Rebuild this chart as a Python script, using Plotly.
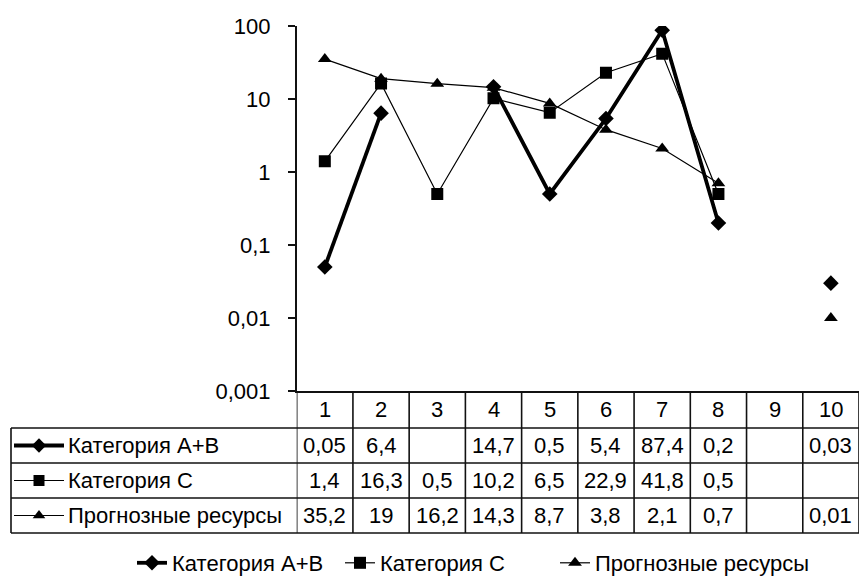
import plotly.graph_objects as go

# ---- data ----
categories = ["1", "2", "3", "4", "5", "6", "7", "8", "9", "10"]
series_names = ["Категория А+В", "Категория С", "Прогнозные ресурсы"]
ab_values = [0.05, 6.4, None, 14.7, 0.5, 5.4, 87.4, 0.2, None, 0.03]
c_values = [1.4, 16.3, 0.5, 10.2, 6.5, 22.9, 41.8, 0.5, None, None]
p_values = [35.2, 19, 16.2, 14.3, 8.7, 3.8, 2.1, 0.7, None, 0.01]
y_tickvals = [0.001, 0.01, 0.1, 1, 10, 100]
y_ticktext = ["0,001", "0,01", "0,1", "1", "10", "100"]

W, H = 859, 577
FONT = "Liberation Sans, Arial, sans-serif"
FS = 22
INK = "#111111"

# layout geometry (pixels)
AX_LEFT, AX_RIGHT = 296.7, 859.0
AX_TOP, AX_BOTTOM = 26.0, 391.0
ROW_LINES = [428, 463, 498, 533]
TABLE_LEFT = 11
LEGEND_X = [132, 340, 555]
LEGEND_Y = 563

xpos = list(range(1, len(categories) + 1))

styles = [
    dict(width=3.8, symbol="diamond", size=12),
    dict(width=1.2, symbol="square", size=12),
    dict(width=1.2, symbol="triangle-up", size=12),
]
all_values = [ab_values, c_values, p_values]
legend_ids = ["legend", "legend2", "legend3"]

fig = go.Figure()
for name, vals, st, lg in zip(series_names, all_values, styles, legend_ids):
    fig.add_trace(go.Scatter(
        x=xpos, y=vals, name=name, mode="lines+markers",
        connectgaps=False, legend=lg,
        line=dict(color="black", width=st["width"]),
        marker=dict(symbol=st["symbol"], size=st["size"], color="black"),
        xaxis="x", yaxis="y",
    ))

# legend keys inside the table rows (overlay pixel axes)
row_centers = [(ROW_LINES[i] + ROW_LINES[i + 1]) / 2 for i in range(3)]
for name, st, yc in zip(series_names, styles, row_centers):
    fig.add_trace(go.Scatter(
        x=[14, 64], y=[yc, yc], mode="lines", showlegend=False,
        line=dict(color="black", width=st["width"]), hoverinfo="skip",
        xaxis="x2", yaxis="y2",
    ))
    fig.add_trace(go.Scatter(
        x=[39], y=[yc], mode="markers", showlegend=False,
        marker=dict(symbol=st["symbol"], size=st["size"] - 1, color="black"),
        hoverinfo="skip", xaxis="x2", yaxis="y2",
    ))

shapes = []
annotations = []
LW = 1.6
for yl in ROW_LINES:
    shapes.append(dict(type="line", xref="x2", yref="y2", x0=TABLE_LEFT, x1=W,
                       y0=yl, y1=yl, line=dict(color=INK, width=LW)))
shapes.append(dict(type="line", xref="x2", yref="y2", x0=TABLE_LEFT, x1=TABLE_LEFT,
                   y0=ROW_LINES[0], y1=ROW_LINES[-1], line=dict(color=INK, width=LW)))
for i in range(len(categories) + 1):
    shapes.append(dict(type="line", xref="x", yref="y2", x0=i + 0.5, x1=i + 0.5,
                       y0=AX_BOTTOM, y1=ROW_LINES[-1], line=dict(color=INK, width=LW)))

def fmt(v):
    return ("%g" % v).replace(".", ",")

header_y = (AX_BOTTOM + ROW_LINES[0]) / 2
for xp, cat in zip(xpos, categories):
    annotations.append(dict(x=xp, y=header_y, xref="x", yref="y2", text=cat,
                            showarrow=False, font=dict(family=FONT, size=FS, color="black")))
for vals, yc in zip(all_values, row_centers):
    for xp, v in zip(xpos, vals):
        if v is None:
            continue
        annotations.append(dict(x=xp, y=yc, xref="x", yref="y2", text=fmt(v),
                                showarrow=False, font=dict(family=FONT, size=FS, color="black")))
for name, yc in zip(series_names, row_centers):
    annotations.append(dict(x=66, y=yc, xref="x2", yref="y2", text=name, xanchor="left",
                            showarrow=False, font=dict(family=FONT, size=FS, color="black")))

legend_common = dict(orientation="h", xanchor="left", yanchor="middle",
                     font=dict(family=FONT, size=FS, color="black"),
                     bgcolor="rgba(0,0,0,0)", itemwidth=30)

fig.update_layout(
    width=W, height=H,
    margin=dict(l=0, r=0, t=0, b=0, autoexpand=False),
    paper_bgcolor="white", plot_bgcolor="rgba(0,0,0,0)",
    font=dict(family=FONT, size=FS, color="black"),
    xaxis=dict(domain=[AX_LEFT / W, AX_RIGHT / W], range=[0.5, 10.5],
               showgrid=False, zeroline=False, showticklabels=False, ticks="",
               showline=True, linecolor=INK, linewidth=LW, fixedrange=True),
    yaxis=dict(domain=[1 - AX_BOTTOM / H, 1 - AX_TOP / H], type="log", range=[-3, 2],
               tickvals=y_tickvals, ticktext=y_ticktext, ticks="outside", ticklen=7,
               tickwidth=LW, tickcolor=INK, showgrid=False, zeroline=False,
               showline=True, linecolor=INK, linewidth=LW, ticklabelstandoff=13,
               tickfont=dict(family=FONT, size=FS, color="black")),
    xaxis2=dict(domain=[0, 1], range=[0, W], visible=False, anchor="y2"),
    yaxis2=dict(domain=[0, 1], range=[H, 0], visible=False, anchor="x2"),
    showlegend=True,
    legend=dict(x=LEGEND_X[0] / W, y=1 - LEGEND_Y / H, **legend_common),
    legend2=dict(x=LEGEND_X[1] / W, y=1 - LEGEND_Y / H, **legend_common),
    legend3=dict(x=LEGEND_X[2] / W, y=1 - LEGEND_Y / H, **legend_common),
    shapes=shapes, annotations=annotations,
)

fig.write_html("out.html", config={"displayModeBar": False},
               post_script="document.body.style.margin='0';")
